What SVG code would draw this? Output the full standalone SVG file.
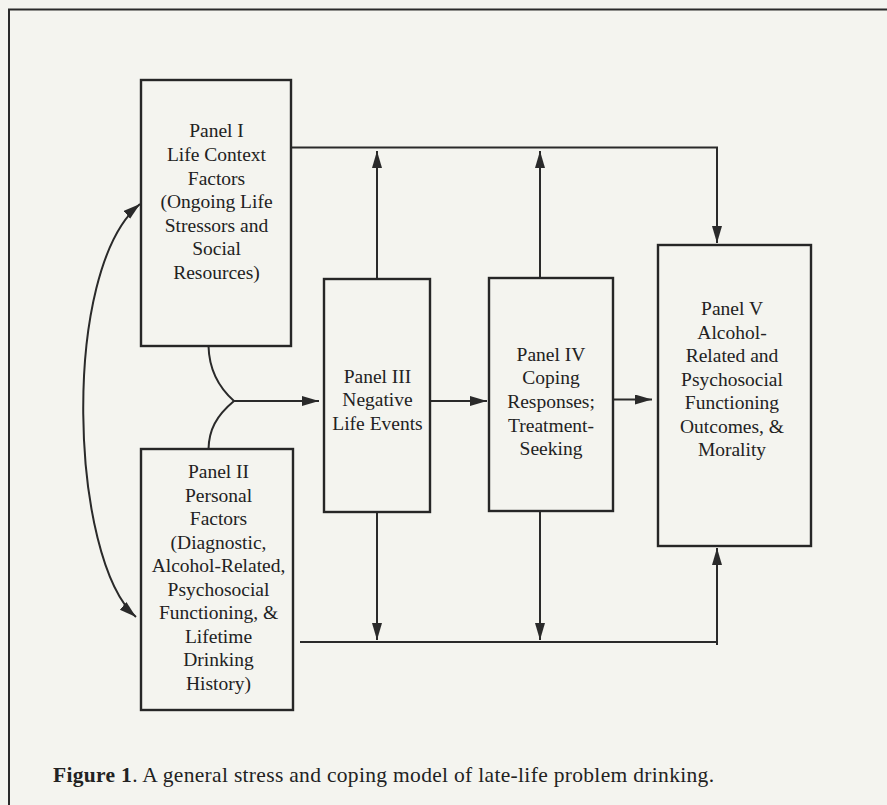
<svg xmlns="http://www.w3.org/2000/svg" width="887" height="805" viewBox="0 0 887 805">
<style>
.box{fill:none;stroke:#262626;stroke-width:2.4}
.ln{fill:none;stroke:#2a2a2a;stroke-width:2}
.t{font-family:"Liberation Serif","Times New Roman",serif;font-size:19.5px;fill:#222;text-anchor:middle}
.cap{font-family:"Liberation Serif","Times New Roman",serif;font-size:21.5px;fill:#222}
</style>
<defs>
<marker id="ah" markerUnits="userSpaceOnUse" markerWidth="18" markerHeight="12" refX="17" refY="5" orient="auto-start-reverse">
<path d="M0,0 L17,5 L0,10 Z" fill="#2a2a2a"/>
</marker>
</defs>
<rect width="887" height="805" fill="#f4f4ef"/>
<path d="M9,805 L9,9.5 L887,9.5" fill="none" stroke="#2a2a2a" stroke-width="2"/>

<g id="connectors">
<path class="ln" d="M291,147.5 L717,147.5 L717,243" marker-end="url(#ah)"/>
<path class="ln" d="M377,279 L377,151" marker-end="url(#ah)"/>
<path class="ln" d="M540,278 L540,151" marker-end="url(#ah)"/>
<path class="ln" d="M300,642 L717,642"/>
<path class="ln" d="M377,512 L377,640" marker-end="url(#ah)"/>
<path class="ln" d="M540,511 L540,640" marker-end="url(#ah)"/>
<path class="ln" d="M717,645 L717,548" marker-end="url(#ah)"/>
<path class="ln" d="M208.5,346 C209,365 216,385 234,401"/>
<path class="ln" d="M208.5,449 C209,430 216,416 234,401"/>
<path class="ln" d="M234,401 L319,401" marker-end="url(#ah)"/>
<path class="ln" d="M430,401 L487,401" marker-end="url(#ah)"/>
<path class="ln" d="M613,399.5 L652,399.5" marker-end="url(#ah)"/>
<path class="ln" d="M140,204 C60,270 70,560 136,617" marker-start="url(#ah)" marker-end="url(#ah)"/>
</g>

<g id="panel1">
<rect class="box" x="141" y="80" width="150" height="266"/>
<text class="t" x="216.5" y="137.3">Panel I</text>
<text class="t" x="216.5" y="161">Life Context</text>
<text class="t" x="216.5" y="184.5">Factors</text>
<text class="t" x="216.5" y="208">(Ongoing Life</text>
<text class="t" x="216.5" y="231.5">Stressors and</text>
<text class="t" x="216.5" y="255">Social</text>
<text class="t" x="216.5" y="278.5">Resources)</text>
</g>

<g id="panel2">
<rect class="box" x="141" y="449" width="152" height="261"/>
<text class="t" x="218.5" y="478.3">Panel II</text>
<text class="t" x="218.5" y="501.8">Personal</text>
<text class="t" x="218.5" y="525.3">Factors</text>
<text class="t" x="218.5" y="548.8">(Diagnostic,</text>
<text class="t" x="218.5" y="572.3">Alcohol-Related,</text>
<text class="t" x="218.5" y="595.8">Psychosocial</text>
<text class="t" x="218.5" y="619.3">Functioning, &amp;</text>
<text class="t" x="218.5" y="642.8">Lifetime</text>
<text class="t" x="218.5" y="666.3">Drinking</text>
<text class="t" x="218.5" y="689.8">History)</text>
</g>

<g id="panel3">
<rect class="box" x="324" y="279" width="106" height="233"/>
<text class="t" x="377.5" y="382.7">Panel III</text>
<text class="t" x="377.5" y="406.3">Negative</text>
<text class="t" x="377.5" y="430">Life Events</text>
</g>

<g id="panel4">
<rect class="box" x="489" y="278" width="124" height="233"/>
<text class="t" x="551" y="360.7">Panel IV</text>
<text class="t" x="551" y="384.3">Coping</text>
<text class="t" x="551" y="408">Responses;</text>
<text class="t" x="551" y="431.5">Treatment-</text>
<text class="t" x="551" y="455">Seeking</text>
</g>

<g id="panel5">
<rect class="box" x="658" y="245" width="153" height="301"/>
<text class="t" x="732" y="315">Panel V</text>
<text class="t" x="732" y="338.5">Alcohol-</text>
<text class="t" x="732" y="362">Related and</text>
<text class="t" x="732" y="385.5">Psychosocial</text>
<text class="t" x="732" y="409">Functioning</text>
<text class="t" x="732" y="432.5">Outcomes, &amp;</text>
<text class="t" x="732" y="456">Morality</text>
</g>

<text class="cap" x="53" y="782" textLength="661" lengthAdjust="spacing"><tspan font-weight="bold">Figure 1</tspan>. A general stress and coping model of late-life problem drinking.</text>
</svg>
